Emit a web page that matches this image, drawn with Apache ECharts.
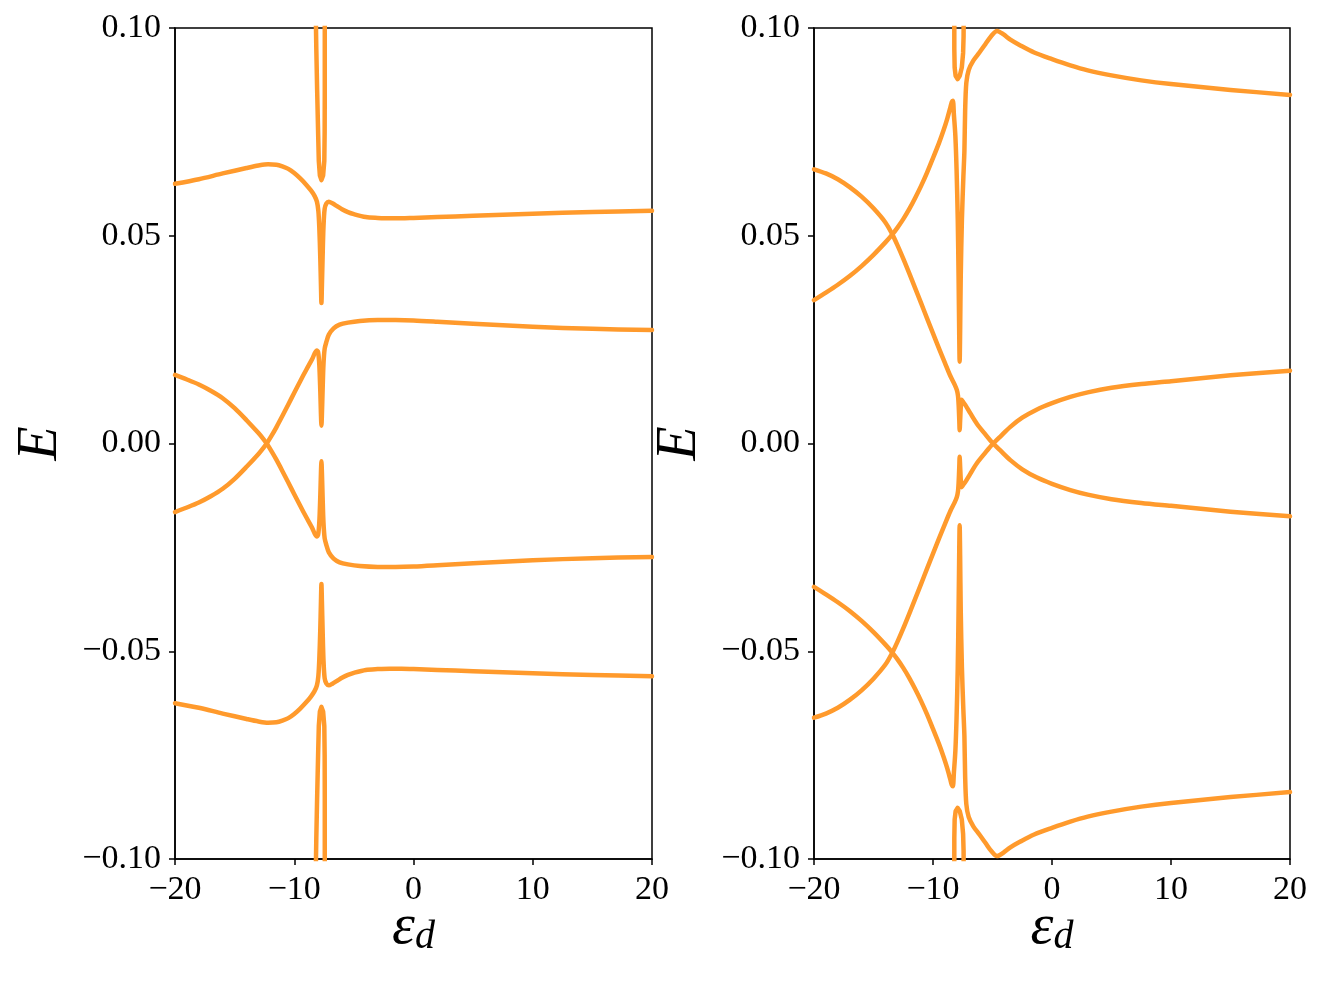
<!DOCTYPE html>
<html>
<head>
<meta charset="utf-8">
<script src="https://cdn.jsdelivr.net/npm/echarts@6/dist/echarts.min.js"></script>
<style>
  html, body { margin: 0; padding: 0; background: #fff; }
  #chart { width: 1322px; height: 982px; }
</style>
</head>
<body>
<div id="chart"></div>
<script>
// tick values and their labels
const xTicks = [-20, -10, 0, 10, 20];
const xTickLabels = ['\u221220', '\u221210', '0', '10', '20'];
const yTicks = [-0.1, -0.05, 0, 0.05, 0.1];
const yTickLabels = ['\u22120.10', '\u22120.05', '0.00', '0.05', '0.10'];

// left panel, [eps_d, E]
const leftOuterUpper = [
  [-20, 0.0625], [-18, 0.0636], [-16, 0.065], [-14, 0.0663], [-13, 0.0669], [-12.2, 0.0672],
  [-11.5, 0.0671], [-11, 0.0667], [-10.5, 0.0661], [-10, 0.0651], [-9.5, 0.0638], [-9, 0.0623],
  [-8.6, 0.0609], [-8.3, 0.0596], [-8.1, 0.0582], [-7.98, 0.056], [-7.9, 0.052], [-7.82, 0.045],
  [-7.76, 0.038], [-7.72, 0.0338], [-7.68, 0.038], [-7.62, 0.045], [-7.55, 0.052], [-7.45, 0.0565],
  [-7.3, 0.0578], [-7.1, 0.0582], [-6.8, 0.0578], [-6.4, 0.0571], [-6, 0.0564], [-5.5, 0.0557],
  [-5, 0.0552], [-4, 0.0545], [-3, 0.0543], [-2, 0.0542], [-1, 0.0542], [0, 0.0543], [2, 0.0545],
  [5, 0.0548], [10, 0.0553], [15, 0.0557], [20, 0.056]
];
const leftOuterLower = [
  [-20, -0.0625], [-18, -0.0636], [-16, -0.065], [-14, -0.0663], [-13, -0.0669], [-12.2, -0.0672],
  [-11.5, -0.0671], [-11, -0.0667], [-10.5, -0.0661], [-10, -0.0651], [-9.5, -0.0638], [-9, -0.0623],
  [-8.6, -0.0609], [-8.3, -0.0596], [-8.1, -0.0582], [-7.98, -0.056], [-7.9, -0.052], [-7.82, -0.045],
  [-7.76, -0.038], [-7.72, -0.0338], [-7.68, -0.038], [-7.62, -0.045], [-7.55, -0.052], [-7.45, -0.0565],
  [-7.3, -0.0578], [-7.1, -0.0582], [-6.8, -0.0578], [-6.4, -0.0571], [-6, -0.0564], [-5.5, -0.0557],
  [-5, -0.0552], [-4, -0.0545], [-3, -0.0543], [-2, -0.0542], [-1, -0.0542], [0, -0.0543], [2, -0.0545],
  [5, -0.0548], [10, -0.0553], [15, -0.0557], [20, -0.056]
];
const leftInnerRising = [
  [-20, -0.0165], [-19, -0.0154], [-18, -0.0142], [-17, -0.0127], [-16, -0.0109], [-15, -0.0085],
  [-14, -0.0056], [-13, -0.0025], [-12.6, -0.0011], [-12.27, 0.0002], [-11.9, 0.0019], [-11.5, 0.0039],
  [-11, 0.0066], [-10.5, 0.0094], [-10, 0.0122], [-9.5, 0.015], [-9, 0.0177], [-8.5, 0.0203],
  [-8.12, 0.0224], [-8.0, 0.022], [-7.9, 0.019], [-7.82, 0.013], [-7.76, 0.007], [-7.72, 0.0043],
  [-7.68, 0.007], [-7.62, 0.013], [-7.55, 0.019], [-7.45, 0.0228], [-7.3, 0.0245], [-7.1, 0.0262],
  [-6.7, 0.0277], [-6.2, 0.0286], [-5.5, 0.0291], [-4.5, 0.0295], [-3, 0.0297], [-1.5, 0.0297],
  [0, 0.0296], [2, 0.0293], [5, 0.0288], [10, 0.0281], [15, 0.0276], [20, 0.0273]
];
const leftInnerFalling = [
  [-20, 0.0165], [-19, 0.0154], [-18, 0.0142], [-17, 0.0127], [-16, 0.0109], [-15, 0.0085],
  [-14, 0.0056], [-13, 0.0025], [-12.6, 0.0011], [-12.27, -0.0002], [-11.9, -0.0019], [-11.5, -0.0039],
  [-11, -0.0066], [-10.5, -0.0094], [-10, -0.0122], [-9.5, -0.015], [-9, -0.0177], [-8.5, -0.0203],
  [-8.12, -0.0224], [-8.0, -0.022], [-7.9, -0.019], [-7.82, -0.013], [-7.76, -0.007], [-7.72, -0.0043],
  [-7.68, -0.007], [-7.62, -0.013], [-7.55, -0.019], [-7.45, -0.0228], [-7.3, -0.0245], [-7.1, -0.0262],
  [-6.7, -0.0277], [-6.2, -0.0286], [-5.5, -0.0291], [-4.5, -0.0295], [-3, -0.0297], [-1.5, -0.0297],
  [0, -0.0296], [2, -0.0293], [5, -0.0288], [10, -0.0281], [15, -0.0276], [20, -0.0273]
];
const leftPoleUpper = [
  [-8.2, 0.104], [-8.15, 0.095], [-8.08, 0.085], [-8.0, 0.075], [-7.94, 0.068], [-7.85, 0.0645],
  [-7.72, 0.0634], [-7.58, 0.0645], [-7.48, 0.068], [-7.45, 0.075], [-7.44, 0.085], [-7.44, 0.095],
  [-7.44, 0.104]
];
const leftPoleLower = [
  [-8.2, -0.104], [-8.15, -0.095], [-8.08, -0.085], [-8.0, -0.075], [-7.94, -0.068], [-7.85, -0.0645],
  [-7.72, -0.0634], [-7.58, -0.0645], [-7.48, -0.068], [-7.45, -0.075], [-7.44, -0.085], [-7.44, -0.095],
  [-7.44, -0.104]
];

// right panel, [eps_d, E]
const rightFallUpper = [
  [-20, 0.066], [-19, 0.065], [-18, 0.0636], [-17, 0.0617], [-16, 0.0594], [-15, 0.0566],
  [-14, 0.0532], [-13.45, 0.0505], [-13, 0.0478], [-12.5, 0.0445], [-12, 0.041], [-11.5, 0.0374],
  [-11, 0.0338], [-10.5, 0.0301], [-10, 0.0265], [-9.5, 0.0229], [-9, 0.0194], [-8.55, 0.0163],
  [-8.2, 0.0143], [-8.0, 0.0129], [-7.9, 0.0115], [-7.84, 0.009], [-7.79, 0.0055], [-7.76, 0.0032],
  [-7.72, 0.0055], [-7.67, 0.0085], [-7.6, 0.0105], [-7.45, 0.0099], [-7.29, 0.0093], [-6.87, 0.0073],
  [-6.3, 0.0047], [-5.6, 0.0022], [-5.04, 0.0003], [-4.3, -0.0018], [-3.5, -0.004], [-2.5, -0.0062],
  [-1.26, -0.0082], [0, -0.0097], [1.54, -0.0112], [3, -0.0123], [5, -0.0134], [7.5, -0.0143],
  [10, -0.015], [15, -0.0164], [20, -0.0175]
];
const rightRiseLower = [
  [-20, -0.066], [-19, -0.065], [-18, -0.0636], [-17, -0.0617], [-16, -0.0594], [-15, -0.0566],
  [-14, -0.0532], [-13.45, -0.0505], [-13, -0.0478], [-12.5, -0.0445], [-12, -0.041], [-11.5, -0.0374],
  [-11, -0.0338], [-10.5, -0.0301], [-10, -0.0265], [-9.5, -0.0229], [-9, -0.0194], [-8.55, -0.0163],
  [-8.2, -0.0143], [-8.0, -0.0129], [-7.9, -0.0115], [-7.84, -0.009], [-7.79, -0.0055], [-7.76, -0.0032],
  [-7.72, -0.0055], [-7.67, -0.0085], [-7.6, -0.0105], [-7.45, -0.0099], [-7.29, -0.0093], [-6.87, -0.0073],
  [-6.3, -0.0047], [-5.6, -0.0022], [-5.04, -0.0003], [-4.3, 0.0018], [-3.5, 0.004], [-2.5, 0.0062],
  [-1.26, 0.0082], [0, 0.0097], [1.54, 0.0112], [3, 0.0123], [5, 0.0134], [7.5, 0.0143],
  [10, 0.015], [15, 0.0164], [20, 0.0175]
];
const rightRiseUpper = [
  [-20, 0.0345], [-19, 0.0363], [-18, 0.0382], [-17, 0.0403], [-16, 0.0427], [-15, 0.0454],
  [-14, 0.0484], [-13.45, 0.0502], [-13, 0.0519], [-12.5, 0.054], [-12, 0.0564], [-11.5, 0.0591],
  [-11, 0.062], [-10.5, 0.0652], [-10, 0.0687], [-9.5, 0.0723], [-9.1, 0.0755], [-8.8, 0.0782],
  [-8.55, 0.0808], [-8.42, 0.0822], [-8.33, 0.0825], [-8.24, 0.079], [-8.12, 0.074], [-8.02, 0.066],
  [-7.92, 0.054], [-7.85, 0.04], [-7.8, 0.027], [-7.76, 0.0197], [-7.72, 0.027], [-7.67, 0.04],
  [-7.57, 0.054], [-7.45, 0.064], [-7.36, 0.0705], [-7.3, 0.08], [-7.2, 0.0868], [-7.0, 0.0899],
  [-6.6, 0.0922], [-6.1, 0.0941], [-5.6, 0.0961], [-5.1, 0.0981], [-4.62, 0.0993], [-4.1, 0.0985],
  [-3.5, 0.0972], [-2.66, 0.0958], [-1.5, 0.0941], [0, 0.0925], [1.54, 0.091], [3, 0.0898],
  [5, 0.0886], [7.5, 0.0874], [10, 0.0865], [15, 0.0851], [20, 0.0839]
];
const rightFallLower = [
  [-20, -0.0345], [-19, -0.0363], [-18, -0.0382], [-17, -0.0403], [-16, -0.0427], [-15, -0.0454],
  [-14, -0.0484], [-13.45, -0.0502], [-13, -0.0519], [-12.5, -0.054], [-12, -0.0564], [-11.5, -0.0591],
  [-11, -0.062], [-10.5, -0.0652], [-10, -0.0687], [-9.5, -0.0723], [-9.1, -0.0755], [-8.8, -0.0782],
  [-8.55, -0.0808], [-8.42, -0.0822], [-8.33, -0.0825], [-8.24, -0.079], [-8.12, -0.074], [-8.02, -0.066],
  [-7.92, -0.054], [-7.85, -0.04], [-7.8, -0.027], [-7.76, -0.0197], [-7.72, -0.027], [-7.67, -0.04],
  [-7.57, -0.054], [-7.45, -0.064], [-7.36, -0.0705], [-7.3, -0.08], [-7.2, -0.0868], [-7.0, -0.0899],
  [-6.6, -0.0922], [-6.1, -0.0941], [-5.6, -0.0961], [-5.1, -0.0981], [-4.62, -0.0993], [-4.1, -0.0985],
  [-3.5, -0.0972], [-2.66, -0.0958], [-1.5, -0.0941], [0, -0.0925], [1.54, -0.091], [3, -0.0898],
  [5, -0.0886], [7.5, -0.0874], [10, -0.0865], [15, -0.0851], [20, -0.0839]
];
const rightPoleUpper = [
  [-8.21, 0.104], [-8.21, 0.095], [-8.18, 0.0905], [-8.1, 0.0885], [-7.93, 0.0877], [-7.75, 0.0885],
  [-7.58, 0.0905], [-7.47, 0.094], [-7.43, 0.098], [-7.42, 0.104]
];
const rightPoleLower = [
  [-8.21, -0.104], [-8.21, -0.095], [-8.18, -0.0905], [-8.1, -0.0885], [-7.93, -0.0877], [-7.75, -0.0885],
  [-7.58, -0.0905], [-7.47, -0.094], [-7.43, -0.098], [-7.42, -0.104]
];

const lineColor = '#ff9a2c';
const serif = "'Liberation Serif', 'DejaVu Serif', serif";

function fmt(ticks, labels) {
  return (v) => {
    const i = ticks.findIndex((t) => Math.abs(t - v) < 1e-9);
    return i >= 0 ? labels[i] : '';
  };
}

function makeX(gridIndex) {
  return {
    type: 'value',
    gridIndex,
    min: -20,
    max: 20,
    interval: 10,
    name: '{e|\u03b5}{d|d}',
    nameLocation: 'middle',
    nameGap: 40,
    nameMoveOverlap: false,
    nameTextStyle: {
      rich: {
        e: { fontFamily: serif, fontStyle: 'italic', fontSize: 58, color: '#000', lineHeight: 58, verticalAlign: 'top' },
        d: { fontFamily: serif, fontStyle: 'italic', fontSize: 40, color: '#000', lineHeight: 40, verticalAlign: 'bottom', padding: [40, 0, 0, 0] },
      },
    },
    axisLine: { onZero: false, lineStyle: { color: '#000', width: 1.5 } },
    axisTick: { inside: false, length: 6, lineStyle: { color: '#000', width: 1.5 } },
    axisLabel: { color: '#000', fontFamily: serif, fontSize: 34, margin: 14, formatter: fmt(xTicks, xTickLabels) },
    splitLine: { show: false },
  };
}

function makeY(gridIndex) {
  return {
    type: 'value',
    gridIndex,
    min: -0.1,
    max: 0.1,
    interval: 0.05,
    name: 'E',
    nameLocation: 'middle',
    nameGap: 106,
    nameMoveOverlap: false,
    nameTextStyle: { fontFamily: serif, fontStyle: 'italic', fontSize: 56, color: '#000' },
    axisLine: { onZero: false, lineStyle: { color: '#000', width: 1.5 } },
    axisTick: { inside: false, length: 6, lineStyle: { color: '#000', width: 1.5 } },
    axisLabel: { color: '#000', fontFamily: serif, fontSize: 34, margin: 14, formatter: fmt(yTicks, yTickLabels) },
    splitLine: { show: false },
  };
}

function curve(data, idx, smooth) {
  return {
    type: 'line',
    xAxisIndex: idx,
    yAxisIndex: idx,
    data,
    showSymbol: false,
    clip: true,
    smooth: smooth ? 0.3 : false,
    lineStyle: { color: lineColor, width: 4.5, cap: 'round', join: 'round' },
    emphasis: { disabled: true },
  };
}

const gridBase = { top: 28, height: 831, show: true, borderColor: '#000', borderWidth: 1.5, backgroundColor: 'transparent', outerBoundsMode: 'none', containLabel: false };

const chart = echarts.init(document.getElementById('chart'), null, { renderer: 'canvas' });
chart.setOption({
  animation: false,
  backgroundColor: '#fff',
  grid: [
    Object.assign({ left: 175, width: 477 }, gridBase),
    Object.assign({ left: 814, width: 476 }, gridBase),
  ],
  xAxis: [makeX(0), makeX(1)],
  yAxis: [makeY(0), makeY(1)],
  series: [
    curve(leftOuterUpper, 0, true),
    curve(leftOuterLower, 0, true),
    curve(leftInnerRising, 0, true),
    curve(leftInnerFalling, 0, true),
    curve(leftPoleUpper, 0, false),
    curve(leftPoleLower, 0, false),
    curve(rightFallUpper, 1, true),
    curve(rightRiseLower, 1, true),
    curve(rightRiseUpper, 1, true),
    curve(rightFallLower, 1, true),
    curve(rightPoleUpper, 1, false),
    curve(rightPoleLower, 1, false),
  ],
});
</script>
</body>
</html>
